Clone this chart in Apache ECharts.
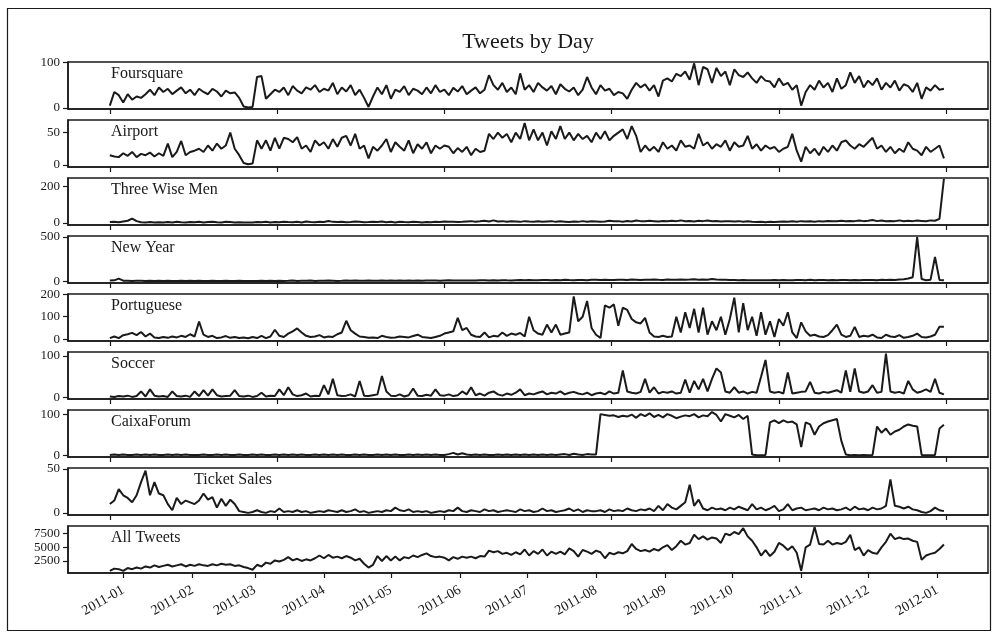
<!DOCTYPE html>
<html>
<head>
<meta charset="utf-8">
<script src="https://cdn.jsdelivr.net/npm/echarts@6/dist/echarts.min.js"></script>
<style>
html, body { margin: 0; padding: 0; background: #fff; }
#container { width: 999px; height: 637px; }
</style>
</head>
<body>
<div id="container"></div>
<script>
// one value every 2 days, starting 2010-12-26
const startDate = [2010, 11, 26];
const stepDays = 2;

const panelNames = ['Foursquare', 'Airport', 'Three Wise Men', 'New Year', 'Portuguese',
    'Soccer', 'CaixaForum', 'Ticket Sales', 'All Tweets'];

const foursquare = [
    5, 35, 28, 12, 30, 18, 25, 22, 30, 40, 28, 45, 35, 42, 30, 38, 45, 32, 40, 28,
    42, 35, 30, 42, 36, 25, 38, 32, 34, 22, 3, 1, 2, 68, 70, 20, 30, 40, 35, 45,
    28, 48, 38, 32, 45, 40, 50, 35, 42, 38, 55, 30, 45, 36, 50, 28, 40, 22, 2, 25,
    45, 30, 50, 20, 40, 35, 48, 28, 42, 38, 30, 45, 32, 50, 35, 40, 28, 44, 36, 48,
    30, 38, 45, 32, 40, 72, 50, 40, 55, 35, 45, 30, 76, 40, 50, 35, 55, 45, 38, 48,
    30, 52, 42, 36, 45, 28, 40, 68, 45, 30, 50, 38, 42, 28, 35, 32, 20, 40, 55, 45,
    52, 38, 50, 25, 60, 65, 58, 75, 70, 80, 62, 98, 50, 90, 85, 55, 88, 70, 80, 50,
    85, 72, 68, 78, 65, 55, 70, 60, 58, 45, 65, 50, 55, 40, 50, 5, 35, 50, 40, 60,
    45, 55, 35, 65, 42, 50, 78, 55, 70, 45, 60, 50, 65, 40, 55, 45, 60, 38, 52, 48,
    35, 55, 20, 45, 38, 50, 40, 42
];
const airport = [
    15, 13, 12, 18, 14, 20, 12, 17, 15, 19, 13, 18, 14, 33, 12, 20, 37, 15, 20, 22,
    25, 20, 30, 22, 33, 25, 30, 50, 25, 15, 3, 1, 2, 38, 25, 38, 22, 42, 25, 42,
    40, 35, 43, 25, 30, 20, 38, 30, 35, 25, 40, 28, 42, 45, 30, 48, 25, 30, 10, 28,
    22, 30, 40, 20, 35, 28, 22, 38, 18, 32, 25, 35, 18, 30, 25, 30, 28, 18, 26, 20,
    28, 15, 25, 20, 22, 48, 40, 50, 42, 48, 35, 50, 40, 65, 38, 55, 38, 50, 30, 52,
    40, 60, 40, 50, 38, 48, 40, 45, 35, 50, 40, 52, 38, 45, 50, 55, 40, 60, 45, 20,
    30, 22, 28, 20, 35, 25, 30, 22, 38, 28, 30, 25, 48, 30, 35, 25, 32, 28, 38, 22,
    35, 28, 30, 45, 25, 32, 22, 30, 25, 28, 20, 25, 28, 48, 22, 5, 28, 18, 25, 15,
    28, 20, 30, 22, 35, 38, 30, 25, 32, 28, 35, 42, 25, 30, 20, 28, 18, 25, 20, 35,
    25, 22, 15, 28, 20, 25, 30, 10
];
const threeWiseMen = [
    5, 6, 4, 8, 12, 24, 10, 4, 3, 5, 3, 4, 2, 5, 3, 6, 4, 3, 5, 4,
    6, 3, 5, 7, 4, 3, 6, 5, 3, 4, 2, 3, 2, 5, 4, 6, 3, 5, 4, 7,
    5, 4, 6, 3, 8, 5, 4, 6, 5, 11, 6, 5, 7, 4, 5, 8, 6, 4, 5, 7,
    5, 8, 4, 6, 3, 7, 5, 4, 6, 5, 3, 5, 4, 6, 5, 8, 6, 7, 5, 6,
    8, 10, 7, 9, 12, 8, 14, 8, 10, 7, 9, 8, 6, 10, 8, 7, 9, 6, 8, 10,
    6, 9, 7, 5, 8, 6, 10, 7, 9, 8, 6, 8, 12, 9, 10, 7, 11, 8, 13, 10,
    9, 12, 10, 8, 11, 9, 12, 10, 14, 9, 11, 8, 12, 10, 13, 9, 11, 8, 10, 9,
    8, 10, 7, 9, 6, 5, 7, 4, 6, 5, 7, 8, 6, 9, 7, 10, 8, 9, 7, 10,
    8, 11, 9, 10, 12, 9, 11, 10, 14, 10, 12, 16, 10, 13, 9, 11, 10, 14, 9, 12,
    10, 13, 11, 9, 14, 12, 22, 240
];
const newYear = [
    8, 10, 30, 6, 5, 4, 6, 5, 4, 5, 3, 5, 4, 6, 3, 4, 5, 3, 6, 4,
    5, 3, 4, 6, 4, 3, 5, 4, 3, 5, 4, 3, 2, 3, 5, 4, 6, 3, 5, 4,
    5, 7, 4, 6, 5, 8, 4, 6, 5, 7, 6, 4, 5, 7, 5, 8, 6, 5, 7, 6,
    5, 8, 6, 7, 5, 9, 6, 8, 5, 7, 6, 8, 7, 9, 6, 8, 10, 7, 9, 8,
    7, 9, 8, 10, 12, 9, 11, 8, 12, 10, 9, 11, 13, 10, 14, 12, 11, 13, 15, 12,
    14, 12, 16, 13, 11, 15, 14, 12, 16, 18, 14, 17, 15, 13, 18, 16, 14, 19, 17, 15,
    18, 16, 20, 17, 15, 19, 18, 16, 20, 17, 19, 22, 18, 20, 17, 24, 19, 16, 18, 15,
    14, 12, 13, 11, 12, 10, 11, 12, 10, 13, 11, 14, 12, 10, 15, 13, 11, 16, 12, 14,
    13, 11, 15, 12, 14, 13, 12, 15, 11, 14, 13, 15, 12, 16, 14, 18, 15, 20, 22, 30,
    45, 500, 25, 12, 18, 275, 15, 10
];
const portuguese = [
    5, 12, 5, 18, 22, 28, 18, 32, 12, 25, 8, 5, 10, 6, 12, 8, 15, 10, 22, 12,
    78, 20, 10, 15, 5, 8, 14, 6, 10, 5, 8, 4, 10, 5, 15, 5, 12, 42, 15, 10,
    25, 35, 48, 30, 15, 10, 12, 18, 8, 12, 10, 22, 30, 82, 40, 25, 12, 10, 6, 8,
    5, 15, 10, 6, 8, 12, 10, 8, 14, 20, 10, 8, 5, 10, 15, 25, 30, 35, 95, 40,
    50, 20, 12, 10, 30, 8, 15, 12, 30, 15, 25, 20, 28, 12, 100, 40, 25, 20, 65, 30,
    65, 20, 25, 30, 190, 80, 100, 170, 50, 20, 5, 150, 140, 155, 60, 140, 130, 90, 75, 70,
    95, 30, 12, 10, 15, 10, 12, 100, 30, 120, 50, 135, 30, 140, 20, 80, 40, 100, 20, 90,
    185, 30, 160, 40, 100, 15, 120, 20, 80, 10, 90, 60, 120, 30, 5, 75, 35, 15, 20, 12,
    10, 18, 40, 65, 20, 10, 15, 55, 10, 15, 12, 20, 8, 5, 20, 12, 10, 18, 6, 10,
    15, 25, 10, 8, 12, 20, 55, 55
];
const soccer = [
    3, 2, 4, 3, 5, 2, 4, 15, 3, 20, 5, 3, 4, 2, 15, 4, 3, 5, 2, 15,
    4, 18, 5, 20, 6, 3, 4, 5, 18, 4, 3, 5, 2, 4, 12, 3, 5, 4, 20, 6,
    25, 8, 4, 6, 10, 3, 5, 4, 30, 8, 45, 6, 4, 5, 8, 3, 40, 5, 4, 6,
    8, 52, 15, 5, 4, 8, 3, 6, 22, 5, 4, 7, 5, 20, 6, 5, 8, 4, 6, 15,
    8, 25, 6, 10, 5, 12, 15, 8, 5, 10, 7, 12, 20, 6, 10, 8, 12, 15, 8, 12,
    10, 15, 8, 12, 14, 10, 8, 12, 6, 10, 12, 8, 15, 10, 12, 65, 15, 12, 10, 14,
    45, 12, 25, 10, 14, 12, 15, 10, 12, 43, 12, 40, 20, 45, 15, 45, 70, 60, 15, 12,
    25, 12, 15, 10, 14, 12, 50, 90, 15, 12, 14, 10, 60, 10, 12, 14, 15, 38, 12, 10,
    14, 12, 15, 18, 12, 65, 14, 70, 15, 12, 15, 30, 12, 14, 105, 15, 12, 14, 10, 40,
    20, 12, 15, 20, 14, 45, 12, 8
];
const caixaForum = [
    1, 2, 1, 2, 1, 1, 2, 1, 2, 1, 2, 1, 1, 2, 1, 2, 1, 2, 1, 1,
    1, 2, 1, 1, 2, 1, 2, 1, 1, 2, 1, 1, 2, 1, 2, 1, 1, 2, 1, 2,
    1, 2, 1, 2, 1, 1, 2, 1, 2, 1, 2, 1, 2, 1, 1, 2, 1, 2, 1, 1,
    2, 1, 2, 1, 2, 1, 1, 2, 1, 2, 1, 2, 1, 2, 1, 1, 3, 6, 2, 5,
    2, 1, 2, 1, 2, 1, 1, 2, 1, 2, 1, 2, 1, 2, 1, 2, 1, 2, 1, 2,
    1, 2, 3, 1, 4, 2, 1, 3, 2, 2, 100, 98, 96, 97, 93, 96, 94, 99, 91, 100,
    95, 102, 93, 98, 92, 100, 96, 90, 94, 97, 95, 100, 92, 97, 95, 105, 98, 82, 100, 96,
    92, 98, 88, 96, 2, 0, 0, 1, 80, 85, 78, 85, 80, 82, 75, 20, 80, 75, 50, 70,
    78, 82, 85, 88, 35, 2, 0, 1, 0, 1, 0, 1, 70, 55, 65, 50, 58, 62, 70, 75,
    72, 70, 1, 0, 0, 1, 65, 74
];
const ticketSales = [
    10, 14, 27, 20, 17, 12, 20, 35, 48, 20, 35, 22, 20, 10, 3, 17, 10, 14, 12, 10,
    14, 22, 15, 18, 6, 16, 8, 15, 10, 2, 1, 0, 1, 3, 1, 0, 2, 1, 5, 1,
    2, 1, 3, 1, 2, 0, 1, 2, 1, 3, 2, 1, 3, 1, 2, 4, 1, 2, 0, 1,
    2, 1, 3, 2, 6, 3, 2, 4, 1, 2, 1, 2, 0, 1, 2, 1, 3, 2, 6, 2,
    1, 3, 2, 1, 4, 2, 3, 1, 2, 3, 2, 1, 4, 2, 3, 1, 2, 5, 2, 3,
    1, 2, 3, 5, 2, 4, 1, 3, 2, 2, 3, 1, 4, 2, 3, 2, 5, 3, 2, 4,
    3, 5, 2, 8, 3, 10, 6, 4, 8, 12, 32, 8, 15, 5, 3, 6, 4, 5, 3, 6,
    4, 7, 5, 3, 10, 4, 6, 3, 5, 8, 2, 4, 10, 3, 5, 6, 3, 4, 5, 3,
    6, 4, 5, 3, 4, 6, 3, 7, 4, 5, 3, 6, 4, 5, 8, 38, 8, 7, 5, 7,
    4, 3, 1, 0, 2, 6, 3, 2
];
const allTweets = [
    700, 1100, 1000, 700, 1200, 1000, 1300, 1100, 1500, 1300,
    1700, 1400, 1600, 1800, 1500, 1700, 1900, 1500, 1800, 1600,
    1900, 1700, 1600, 1900, 1700, 2000, 1800, 1900, 1600, 1700,
    1400, 1200, 900, 1800, 1500, 2200, 2000, 2600, 2400, 2700,
    3200, 2600, 2900, 2500, 2800, 2600, 3000, 3500, 3000, 3600,
    3100, 3300, 3000, 3400, 3100, 2600, 2900, 2000, 1300, 1800,
    3400, 2500, 3400, 2600, 3300, 2600, 3200, 3000, 3500, 3200,
    3600, 3900, 3400, 3200, 3300, 3100, 2600, 3200, 2900, 3300,
    3100, 3300, 3000, 3400, 3300, 4400, 4100, 4300, 3800, 4000,
    3600, 4100, 3700, 4600, 3500, 4300, 3800, 4600, 3500, 4200,
    3800, 4200, 3700, 4800, 4300, 3300, 4500, 4200, 3800, 4400,
    4100, 3000, 4000, 3700, 4100, 3900, 4300, 5600, 4700, 4300,
    4500, 4200, 4700, 4400, 5000, 5400, 4500, 5200, 6200, 5500,
    5800, 7300, 6500, 7000, 6400, 6800, 6600, 5800, 7500, 7200,
    7800, 7400, 8500, 7000, 6200, 5000, 3500, 4500, 3400, 4200,
    5800, 5300, 4500, 5200, 4000, 700, 5000, 5500, 8700, 5600,
    5500, 6200, 5500, 5800, 5600, 6000, 7300, 4500, 5000, 3500,
    4500, 4000, 3800, 5000, 6000, 7500, 6500, 6800, 6500, 6600,
    6200, 6000, 2700, 3500, 3800, 4000, 4700, 5500
];

const yTickValues = [[0, 100], [0, 50], [0, 200], [0, 500], [0, 100, 200],
    [0, 100], [0, 100], [0, 50], [2500, 5000, 7500]];

const allData = [foursquare, airport, threeWiseMen, newYear, portuguese,
    soccer, caixaForum, ticketSales, allTweets];

// axis limits per panel
const yLimits = [[-2.5, 101], [-3.3, 69.5], [-11, 244], [-20, 512], [-8, 201],
    [-3, 109], [-4, 110], [-2.4, 51], [300, 8900]];

// x is measured in days since startDate
const DAY = 86400000;
const t0 = new Date(startDate[0], startDate[1], startDate[2]).getTime();
const xMin = -18.76;
const xMax = 393.76;

function dayOf(y, m, d) {
    return Math.round((new Date(y, m, d).getTime() - t0) / DAY);
}
let monthTicks = [];
for (let m = 0; m <= 12; m++) monthTicks.push(dayOf(2011, m, 1));
let sparseTicks = [0, 75, 150, 225, 300, 375];

const font = 'Liberation Serif';
const ink = '#1a1a1a';

let grids = [], xAxes = [], yAxes = [], series = [], texts = [];
for (let i = 0; i < 9; i++) {
    let top = 62 + 58 * i;
    grids.push({
        left: 68, right: 11, top: top, height: 47,
        show: true, borderColor: ink, borderWidth: 1.5
    });
    let last = i === 8;
    xAxes.push({
        type: 'value', gridIndex: i, min: xMin, max: xMax,
        axisLine: { show: true, onZero: false, lineStyle: { color: ink, width: 1.5 } },
        axisTick: {
            show: true, length: 5, lineStyle: { color: ink, width: 1.2 },
            customValues: last ? monthTicks : sparseTicks
        },
        axisLabel: {
            show: last,
            customValues: monthTicks,
            rotate: 30, margin: 16,
            fontFamily: font, fontSize: 14, color: ink,
            formatter: function (v) {
                let d = new Date(t0 + v * DAY + DAY / 2);
                return d.getFullYear() + '-' + String(d.getMonth() + 1).padStart(2, '0');
            }
        },
        splitLine: { show: false }
    });
    yAxes.push({
        type: 'value', gridIndex: i, min: yLimits[i][0], max: yLimits[i][1],
        axisLine: { show: true, onZero: false, lineStyle: { color: ink, width: 1.5 } },
        axisTick: {
            show: true, length: 5, lineStyle: { color: ink, width: 1.2 },
            customValues: yTickValues[i]
        },
        axisLabel: {
            customValues: yTickValues[i], margin: 8,
            fontFamily: font, fontSize: 13, color: ink,
            formatter: v => String(v)
        },
        splitLine: { show: false }
    });
    series.push({
        type: 'line', xAxisIndex: i, yAxisIndex: i,
        showSymbol: false, symbol: 'none',
        lineStyle: { color: ink, width: 2 },
        data: allData[i].map((v, k) => [k * stepDays, v])
    });
    texts.push({
        type: 'text', left: i === 7 ? 194 : 111, top: top + 4,
        style: { text: panelNames[i], font: '16px "Liberation Serif"', fill: ink }
    });
}

texts.push({
    type: 'text', x: 528, y: 31,
    style: { text: 'Tweets by Day', font: '22px "Liberation Serif"', fill: ink,
        textAlign: 'center', textVerticalAlign: 'top' }
});
texts.push({
    type: 'rect', shape: { x: 7.5, y: 8.5, width: 983, height: 622 },
    style: { fill: 'none', stroke: ink, lineWidth: 1.2 }, silent: true
});

let chart = echarts.init(document.getElementById('container'));
chart.setOption({
    animation: false,
    backgroundColor: '#fff',
    grid: grids,
    xAxis: xAxes,
    yAxis: yAxes,
    series: series,
    graphic: texts
});
</script>
</body>
</html>
